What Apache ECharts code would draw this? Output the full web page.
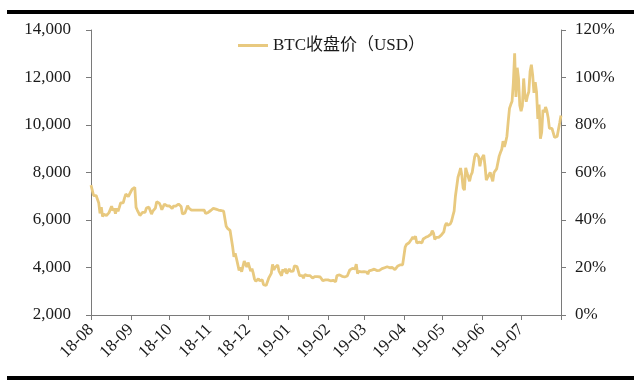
<!DOCTYPE html>
<html>
<head>
<meta charset="utf-8">
<script src="https://cdn.jsdelivr.net/npm/echarts@6/dist/echarts.min.js"></script>
<style>
html,body{margin:0;padding:0;background:#fff;}
#c{width:640px;height:389px;}
</style>
</head>
<body>
<div id="c"></div>
<script>
var startDate = '2018-08-01';
var seriesName = 'BTC收盘价（USD）';
// daily closes, 2018-08-01 .. 2019-08-01
var btcClose = [
// 2018-08
7470,7420,7030,7020,7030,6950,6720,6280,6540,6150,6240,6320,6190,6270,6310,6330,6580,6400,6490,6270,6490,6370,6530,6720,6700,6720,6920,7090,7050,6990,7040,
// 2018-09
7200,7300,7270,7370,6530,6410,6430,6190,6250,6320,6290,6320,6500,6520,6540,6500,6250,6370,6400,6500,6770,6720,6710,6600,6430,6470,6670,6640,6600,6630,
// 2018-10
6590,6530,6480,6580,6620,6590,6610,6670,6650,6570,6250,6300,6300,6290,6600,6500,6480,6420,6400,6420,6420,6420,6410,6420,6400,6420,6420,6410,6270,6270,6320,
// 2018-11
6380,6400,6360,6490,6420,6460,6530,6420,6350,6400,6410,6370,6360,5740,5650,5580,5560,5620,4870,4450,4600,4370,4330,3880,4010,3820,3860,4270,4280,4020,
// 2018-12
4210,4140,3850,3950,3760,3510,3420,3410,3530,3440,3390,3480,3280,3240,3240,3250,3550,3590,3750,4130,3900,4010,3960,4100,3850,3880,3650,3920,3820,3950,3740,
// 2019-01
3840,3940,3840,3860,3850,4070,4030,4040,4050,3660,3690,3660,3550,3700,3630,3660,3680,3660,3740,3560,3580,3620,3590,3620,3600,3600,3580,3450,3420,3480,3460,
// 2019-02
3480,3520,3440,3440,3460,3400,3400,3660,3660,3690,3620,3630,3620,3600,3620,3640,3670,3900,3910,3960,3900,3940,4140,3750,3840,3820,3820,3820,
// 2019-03
3830,3840,3810,3720,3860,3880,3890,3870,3930,3920,3870,3890,3880,3900,3950,4030,3990,4000,4030,4060,3990,4000,4000,3990,3910,3930,4050,4030,4110,4110,4110,
// 2019-04
4140,4860,4970,4920,5040,5060,5200,5290,5200,5320,5030,5070,5070,5140,5040,5200,5240,5270,5290,5320,5280,5400,5550,5450,5180,5270,5280,5270,5200,5360,
// 2019-05
5400,5500,5760,5870,5780,5760,5830,5950,6170,6370,7000,6980,7800,7980,8190,7880,7350,7260,8200,7990,7950,7630,7880,7990,8050,8670,8800,8720,8660,8260,8550,
// 2019-06
8560,8740,8280,7680,7790,7810,8000,7950,7630,8000,7920,8150,8230,8690,8840,8980,9320,9080,9270,9530,10140,10700,10860,11000,11780,13020,11180,12410,11960,10820,
// 2019-07
10580,10800,11960,11220,10980,11230,11400,12250,12540,12100,11350,11800,11390,10260,10860,9420,9700,10640,10530,10760,10600,10320,9860,9880,9860,9850,9480,9530,9520,9500,10090,
// 2019-08-01
10400
];
var leftTicks = [2000, 14000, 2000];   // min, max, interval
var rightTicks = [0, 1.2, 0.2];

// date categories
var dates = [];
(function(){
  var d = new Date(startDate + 'T00:00:00Z');
  for (var i = 0; i < btcClose.length; i++) {
    var y = d.getUTCFullYear(), m = d.getUTCMonth() + 1, dd = d.getUTCDate();
    dates.push(y + '-' + (m < 10 ? '0' : '') + m + '-' + (dd < 10 ? '0' : '') + dd);
    d.setUTCDate(d.getUTCDate() + 1);
  }
})();
var lastDate = dates[dates.length - 1];

var serif = '"Liberation Serif", "Noto Sans CJK SC", serif';
var axisCol = '#7a7a7a';
var lineCol = '#E8C97F';
var chart = echarts.init(document.getElementById('c'), null, {renderer: 'canvas'});
chart.setOption({
  animation: false,
  backgroundColor: '#ffffff',
  grid: {left: 91, right: 79, top: 30, bottom: 74, containLabel: false},
  legend: {
    data: [{name: seriesName, icon: 'rect'}],
    left: 233, top: 32,
    itemWidth: 30, itemHeight: 3, itemGap: 6,
    textStyle: {fontFamily: serif, fontSize: 17, color: '#1a1a1a'}
  },
  graphic: [
    {type: 'rect', shape: {x: 7, y: 10, width: 627, height: 4}, style: {fill: '#000'}},
    {type: 'rect', shape: {x: 7, y: 376, width: 627, height: 4}, style: {fill: '#000'}}
  ],
  xAxis: {
    type: 'category',
    data: dates,
    boundaryGap: false,
    axisLine: {lineStyle: {color: axisCol, width: 1}},
    axisTick: {
      length: 5,
      lineStyle: {color: axisCol},
      interval: function (i, v) { return v.slice(8) === '01'; }
    },
    axisLabel: {
      rotate: 45,
      margin: 12,
      fontFamily: serif, fontSize: 17, color: '#1a1a1a',
      interval: function (i, v) { return v.slice(8) === '01' && v !== lastDate; },
      formatter: function (v) { return v.slice(2, 7); }
    },
    splitLine: {show: false}
  },
  yAxis: [
    {
      type: 'value', position: 'left',
      min: leftTicks[0], max: leftTicks[1], interval: leftTicks[2],
      axisLine: {show: true, lineStyle: {color: axisCol, width: 1}},
      axisTick: {show: true, length: 5, lineStyle: {color: axisCol}},
      axisLabel: {
        margin: 20, fontFamily: serif, fontSize: 17, color: '#1a1a1a',
        formatter: function (v) { return v.toLocaleString('en-US'); }
      },
      splitLine: {show: false}
    },
    {
      type: 'value', position: 'right',
      min: rightTicks[0], max: rightTicks[1], interval: rightTicks[2],
      axisLine: {show: true, lineStyle: {color: axisCol, width: 1}},
      axisTick: {show: true, length: 5, lineStyle: {color: axisCol}},
      axisLabel: {
        margin: 14, fontFamily: serif, fontSize: 17, color: '#1a1a1a',
        formatter: function (v) { return Math.round(v * 100) + '%'; }
      },
      splitLine: {show: false}
    }
  ],
  series: [{
    name: seriesName,
    type: 'line',
    data: btcClose,
    yAxisIndex: 0,
    symbol: 'none',
    smooth: false,
    lineStyle: {color: lineCol, width: 2.8},
    itemStyle: {color: lineCol}
  }]
});
</script>
</body>
</html>
